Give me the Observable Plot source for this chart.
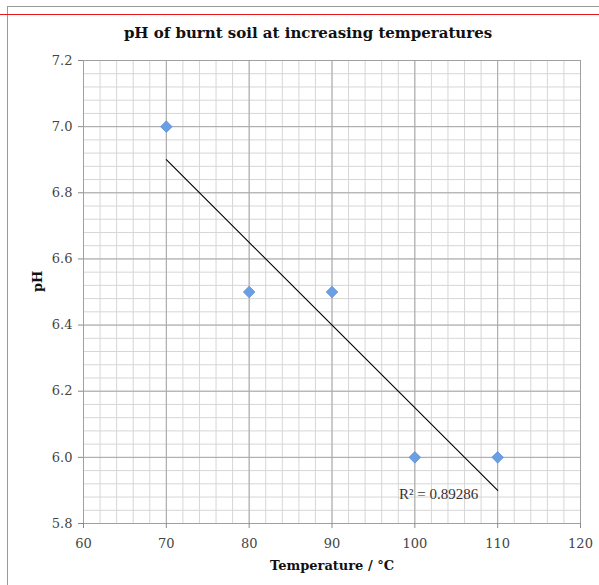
<!DOCTYPE html>
<html>
<head>
<meta charset="utf-8">
<script src="https://cdn.jsdelivr.net/npm/d3@7"></script>
<script src="https://cdn.jsdelivr.net/npm/@observablehq/plot@0.6"></script>
<style>
  html, body { margin: 0; padding: 0; background: #fff; }
  #wrap { position: relative; width: 599px; height: 585px; overflow: hidden; }
  #border { position: absolute; left: 7px; top: 6px; width: 620px; height: 640px; border-left: 1.5px solid #9a9a9a; border-top: 1.5px solid #9a9a9a; }
  #red { position: absolute; left: 0; top: 14px; width: 599px; height: 0; border-top: 1.5px solid #e8151b; }
  #chart { position: absolute; left: 0; top: 0; }
</style>
</head>
<body>
<div id="wrap">
  <div id="border"></div>
  <div id="red"></div>
  <div id="chart"></div>
</div>
<script>
const temperatures = [70, 80, 90, 100, 110];
const phValues = [7.0, 6.5, 6.5, 6.0, 6.0];
const xTicks = [60, 70, 80, 90, 100, 110, 120];
const yTicks = [5.8, 6.0, 6.2, 6.4, 6.6, 6.8, 7.0, 7.2];

const data = temperatures.map((t, i) => ({temperature: t, ph: phValues[i]}));

// R² of the linear fit
const mx = d3.mean(temperatures), my = d3.mean(phValues);
const sxy = d3.sum(data, d => (d.temperature - mx) * (d.ph - my));
const sxx = d3.sum(data, d => (d.temperature - mx) ** 2);
const slope = sxy / sxx, intercept = my - slope * mx;
const ssTot = d3.sum(data, d => (d.ph - my) ** 2);
const ssRes = d3.sum(data, d => (d.ph - (intercept + slope * d.temperature)) ** 2);
const r2 = 1 - ssRes / ssTot;

const minorX = d3.range(60, 120.001, 2);
const minorY = d3.range(0, 36).map(i => +(5.8 + i * 0.04).toFixed(2));

const serif = "'DejaVu Serif', serif";

const chart = Plot.plot({
  width: 599,
  height: 585,
  marginLeft: 83,
  marginRight: 19,
  marginTop: 60,
  marginBottom: 62,
  style: {fontFamily: serif, background: "transparent", overflow: "visible"},
  x: {type: "linear", domain: [60, 120], label: null},
  y: {type: "linear", domain: [5.8, 7.2], label: null},
  marks: [
    Plot.ruleX(minorX, {stroke: "#d6d6d6", strokeWidth: 1, strokeOpacity: 1}),
    Plot.ruleY(minorY, {stroke: "#d6d6d6", strokeWidth: 1, strokeOpacity: 1}),
    Plot.ruleX(xTicks, {stroke: "#a8a8a8", strokeWidth: 1, strokeOpacity: 1}),
    Plot.ruleY(yTicks, {stroke: "#a8a8a8", strokeWidth: 1, strokeOpacity: 1}),
    Plot.frame({stroke: "#a0a0a0", strokeWidth: 1}),
    Plot.axisX({ticks: xTicks, tickSize: 5, stroke: "#8a8a8a", tickPadding: 10, fontSize: 13, fill: "#444", tickFormat: d => d, label: null}),
    Plot.axisY({ticks: yTicks, tickSize: 5, stroke: "#8a8a8a", tickPadding: 6, fontSize: 13, fill: "#444", tickFormat: d => d.toFixed(1), label: null}),
    Plot.linearRegressionY(data, {x: "temperature", y: "ph", stroke: "#000", strokeWidth: 1.1, ci: 0}),
    Plot.dot(data, {x: "temperature", y: "ph", symbol: "diamond2", r: 5.2, fill: "#6a9fe3", stroke: "#5a8fd6", strokeWidth: 0.8}),
    Plot.text([`R\u00B2 = ${r2.toFixed(5)}`], {x: 98.1, y: 5.89, text: d => d, textAnchor: "start", lineAnchor: "middle", fontSize: 15, fill: "#333", fontFamily: "'Liberation Serif', serif"}),
    Plot.text(["pH of burnt soil at increasing temperatures"], {frameAnchor: "top", lineAnchor: "middle", dy: -27, dx: -24, text: d => d, fontSize: 15, fontWeight: "bold", fill: "#111"}),
    Plot.text(["Temperature / \u00B0C"], {frameAnchor: "bottom", lineAnchor: "middle", dy: 42, text: d => d, fontSize: 13, fontWeight: "bold", fill: "#111"}),
    Plot.text(["pH"], {frameAnchor: "left", dx: -46, rotate: -90, text: d => d, fontSize: 13, fontWeight: "bold", fill: "#111"})
  ]
});
document.getElementById("chart").appendChild(chart);
</script>
</body>
</html>
